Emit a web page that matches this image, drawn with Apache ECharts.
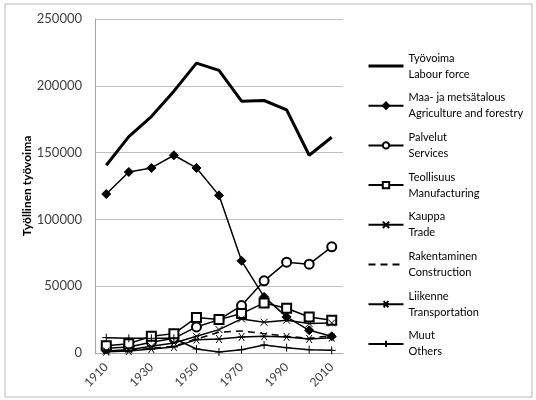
<!DOCTYPE html>
<html><head><meta charset="utf-8">
<script src="https://cdn.jsdelivr.net/npm/echarts@6/dist/echarts.min.js"></script>
<style>html,body{margin:0;padding:0;background:#fff}#c{width:536px;height:400px}</style>
</head><body><div id="c"></div>
<script>
const years = ['1910','1920','1930','1940','1950','1960','1970','1980','1990','2000','2010'];
const labour = [140500, 162000, 177000, 196000, 217000, 211500, 188500, 189000, 182000, 148000, 161500];
const agri = [119000, 135500, 138500, 148000, 138500, 118000, 69000, 42000, 27000, 17000, 12500];
const services = [3500, 4500, 8000, 11000, 19500, 25000, 35500, 54000, 68000, 66500, 79500];
const manuf = [5500, 7000, 12500, 14500, 26500, 25000, 29500, 37500, 33500, 27000, 24500];
const trade = [1500, 2500, 5000, 7500, 12500, 17500, 25500, 23000, 24500, 22000, 22500];
const construction = [1500, 2000, 3500, 5000, 10500, 15500, 16500, 14500, 12500, 11000, 13000];
const transport = [1000, 1500, 3000, 4500, 10000, 10500, 12000, 12500, 12000, 10500, 11500];
const others = [11500, 11000, 11000, 11000, 3000, 800, 2500, 6000, 4000, 2500, 2000];
const names = ['Työvoima\nLabour force','Maa- ja metsätalous\nAgriculture and forestry','Palvelut\nServices','Teollisuus\nManufacturing','Kauppa\nTrade','Rakentaminen\nConstruction','Liikenne\nTransportation','Muut\nOthers'];
const yTicks = [0, 50000, 100000, 150000, 200000, 250000];

const FONT = 'Lato';
const symX = 'path://M0,0L10,10M10,0L0,10';
const symStar = 'path://M0,5L10,5M1.5,1.5L8.5,8.5M8.5,1.5L1.5,8.5';
const symPlus = 'path://M0,5L10,5M5,0L5,10';
const hidden = {color: 'rgba(0,0,0,0)', borderColor: 'rgba(0,0,0,0)', borderWidth: 0};

function s(name, data, opts) {
  return Object.assign({
    name: name, type: 'line', data: data,
    lineStyle: {color: '#000', width: 1.5},
    itemStyle: {color: '#000', borderColor: '#000', borderWidth: 1},
    animation: false, z: 3
  }, opts);
}

const chart = echarts.init(document.getElementById('c'), null, {renderer: 'canvas'});
chart.setOption({
  backgroundColor: '#fff',
  animation: false,
  graphic: [{type: 'rect', shape: {x: 5, y: 4, width: 527, height: 393}, style: {fill: 'none', stroke: '#b8b8b8', lineWidth: 1}}],
  grid: {left: 95, right: 193, top: 19, bottom: 47, containLabel: false},
  xAxis: {
    type: 'category', data: years, boundaryGap: true,
    axisLine: {lineStyle: {color: '#a6a6a6'}},
    axisTick: {show: false},
    axisLabel: {interval: 1, rotate: 45, color: '#404040', fontFamily: FONT, fontSize: 12, margin: 12}
  },
  yAxis: {
    type: 'value', min: yTicks[0], max: yTicks[yTicks.length - 1], interval: 50000,
    name: 'Työllinen työvoima', nameLocation: 'middle', nameGap: 56, nameRotate: 90,
    nameTextStyle: {fontFamily: FONT, fontWeight: 'bold', fontSize: 12, color: '#000'},
    axisLine: {show: true, lineStyle: {color: '#a6a6a6'}},
    axisTick: {show: false},
    splitLine: {lineStyle: {color: '#bfbfbf'}},
    axisLabel: {color: '#404040', fontFamily: FONT, fontSize: 13, margin: 13, formatter: v => String(v)}
  },
  legend: {
    orient: 'vertical', left: 362, top: 37, itemWidth: 35, itemHeight: 8, itemGap: -8.3,
    textStyle: {fontFamily: FONT, fontSize: 11, color: '#000', lineHeight: 16, padding: [16, 0, 0, 0]},
    data: [
      {name: names[0], lineStyle: {width: 3, color: '#000'}},
      names[1], names[2], names[3], names[4],
      {name: names[5], lineStyle: {width: 2, color: '#000', type: [7, 5]}},
      names[6], names[7]
    ]
  },
  series: [
    s(names[0], labour, {symbol: 'circle', showSymbol: false, itemStyle: hidden, lineStyle: {color: '#000', width: 3}}),
    s(names[1], agri, {symbol: 'diamond', symbolSize: 9}),
    s(names[2], services, {symbol: 'emptyCircle', symbolSize: 9}),
    s(names[3], manuf, {symbol: 'emptyRect', symbolSize: 9}),
    s(names[4], trade, {symbol: symX, symbolSize: 7}),
    s(names[5], construction, {symbol: 'circle', showSymbol: false, itemStyle: hidden, lineStyle: {color: '#000', width: 1.5, type: [7, 5]}}),
    s(names[6], transport, {symbol: symStar, symbolSize: 8}),
    s(names[7], others, {symbol: symPlus, symbolSize: 8})
  ]
});
</script></body></html>
